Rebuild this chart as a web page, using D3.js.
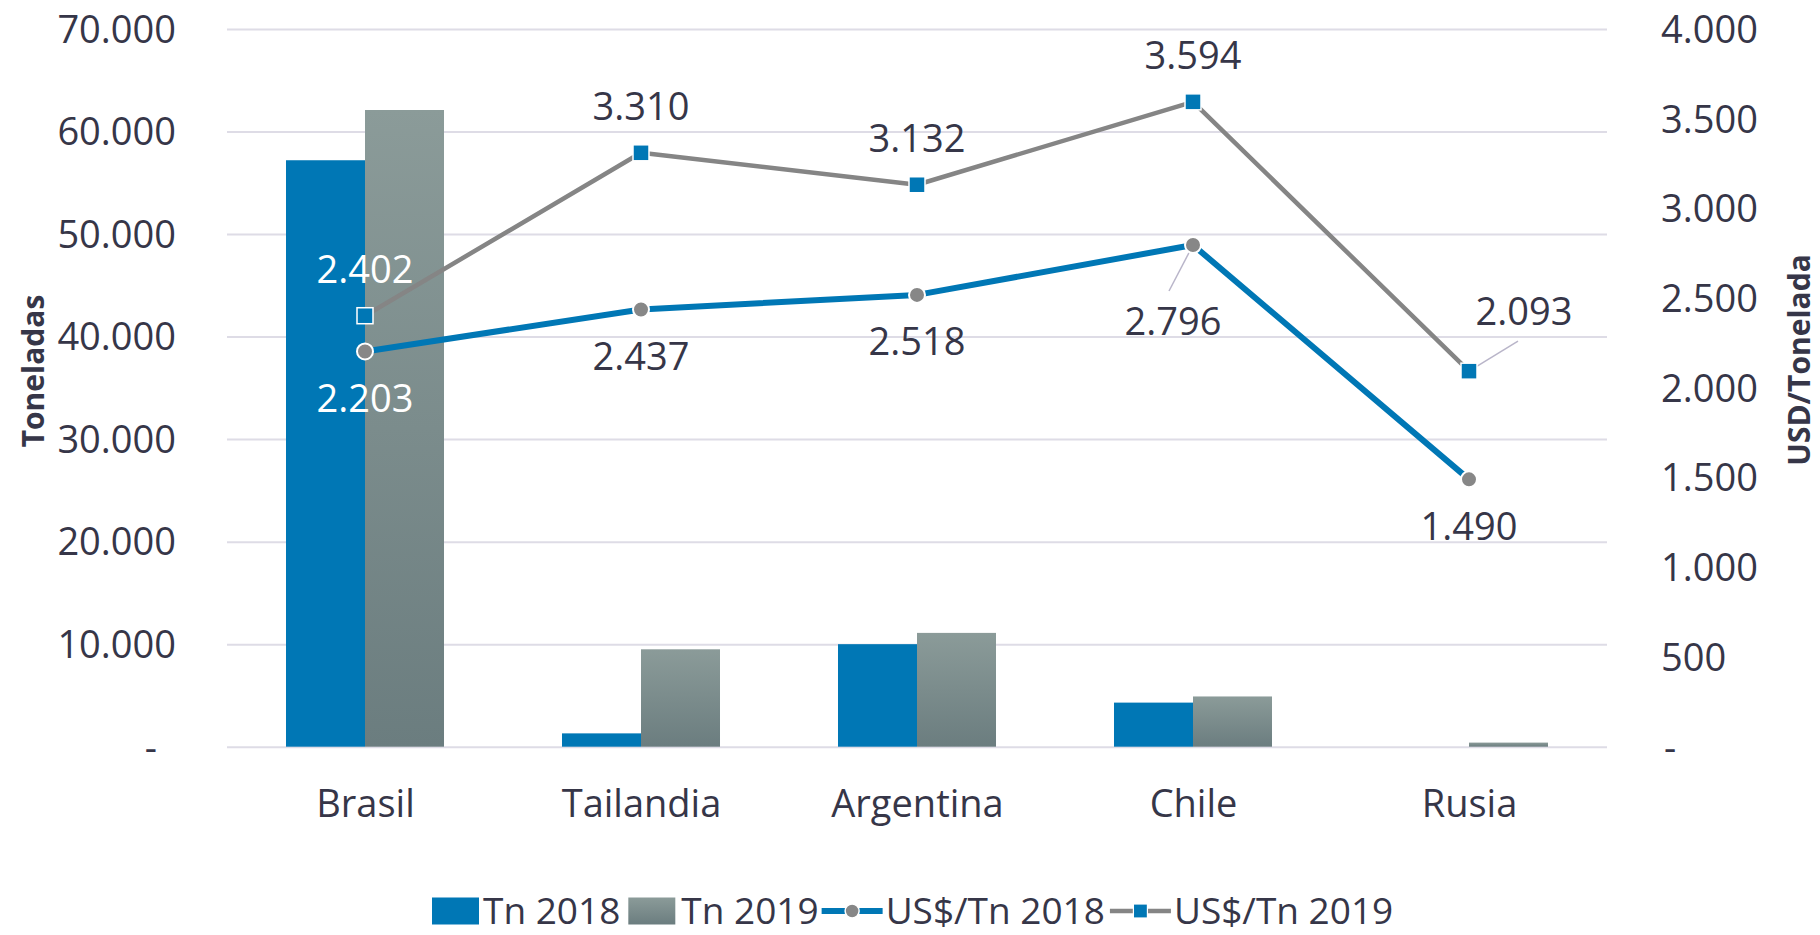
<!DOCTYPE html>
<html>
<head>
<meta charset="utf-8">
<script src="https://cdn.jsdelivr.net/npm/d3@7"></script>
<style>
  html, body { margin: 0; padding: 0; background: #ffffff; }
  svg { display: block; font-family: "Open Sans", sans-serif; }
</style>
</head>
<body>
<svg id="chart" width="1820" height="935"></svg>
<script>
// ---------- DATA ----------
const categories = ["Brasil", "Tailandia", "Argentina", "Chile", "Rusia"];
const tn2018 = [57200, 1300, 10000, 4300, 0];
const tn2019 = [62100, 9500, 11100, 4900, 400];
const usd2018 = [2203, 2437, 2518, 2796, 1490];
const usd2019 = [2402, 3310, 3132, 3594, 2093];
const leftTicks = [0, 10000, 20000, 30000, 40000, 50000, 60000, 70000];
const rightTicks = [0, 500, 1000, 1500, 2000, 2500, 3000, 3500, 4000];
const seriesNames = ["Tn 2018", "Tn 2019", "US$/Tn 2018", "US$/Tn 2019"];
const leftTitle = "Toneladas";
const rightTitle = "USD/Tonelada";
// label placement (style, not data)
const labelPos2018 = ["below", "below", "below", "leader", "below"];
const labelPos2019 = ["above", "above", "above", "above", "leader"];
const labelWhite2018 = [true, false, false, false, false];
const labelWhite2019 = [true, false, false, false, false];

// ---------- SETUP ----------
const svg = d3.select("#chart");
const plot = { left: 227, right: 1607, top: 29, bottom: 746.7 };

const esLocale = d3.formatLocale({ decimal: ",", thousands: ".", grouping: [3], currency: ["$", ""] });
const fmt = esLocale.format(",.0f");
const tickFmt = v => v === 0 ? "-" : fmt(v);

const textColor = "#363648";
const blue = "#0077b5";
const lineGray = "#858585";
const gridColor = "#dedce6";
const FS = 38;

const x0 = d3.scaleBand().domain(categories).range([plot.left, plot.right])
  .paddingInner(0.4275).paddingOuter(0.21375);
const x1 = d3.scaleBand().domain(["Tn 2018", "Tn 2019"]).range([0, x0.bandwidth()]);
const cx = c => x0(c) + x0.bandwidth() / 2;

const yL = d3.scaleLinear().domain([0, 70000]).range([plot.bottom, plot.top]);
const yR = d3.scaleLinear().domain([0, 4000]).range([plot.bottom, plot.top]);

// gradient
const defs = svg.append("defs");
const grad = defs.append("linearGradient").attr("id", "grayGrad")
  .attr("x1", 0).attr("y1", 0).attr("x2", 0).attr("y2", 1);
grad.append("stop").attr("offset", "0%").attr("stop-color", "#8b9b99");
grad.append("stop").attr("offset", "100%").attr("stop-color", "#6b7d7f");

// ---------- GRID + LEFT AXIS ----------
const gL = svg.append("g").attr("transform", `translate(${plot.left},0)`)
  .call(d3.axisLeft(yL).tickValues(leftTicks).tickSize(-(plot.right - plot.left))
    .tickPadding(51).tickFormat(tickFmt));
gL.select(".domain").remove();
gL.selectAll(".tick line").attr("stroke", gridColor).attr("stroke-width", 2);
gL.selectAll(".tick text").attr("fill", textColor).style("font-size", FS + "px")
  .attr("font-family", "Open Sans")
  .attr("dy", "0.35em")
  .attr("dx", d => d === 0 ? -19 : 0);

// ---------- RIGHT AXIS ----------
const gR = svg.append("g").attr("transform", `translate(${plot.right},0)`)
  .call(d3.axisRight(yR).tickValues(rightTicks).tickSize(0).tickPadding(54).tickFormat(tickFmt));
gR.select(".domain").remove();
gR.selectAll(".tick text").attr("fill", textColor).style("font-size", FS + "px")
  .attr("font-family", "Open Sans")
  .attr("dy", "0.35em")
  .attr("dx", d => d === 0 ? 3 : 0);

// ---------- BARS ----------
const barData = [];
categories.forEach((c, i) => {
  barData.push({ c, s: "Tn 2018", v: tn2018[i] });
  barData.push({ c, s: "Tn 2019", v: tn2019[i] });
});
svg.append("g").selectAll("rect").data(barData).join("rect")
  .attr("x", d => x0(d.c) + x1(d.s))
  .attr("y", d => yL(d.v))
  .attr("width", x1.bandwidth())
  .attr("height", d => yL(0) - yL(d.v))
  .attr("fill", d => d.s === "Tn 2018" ? blue : "url(#grayGrad)");

// ---------- X AXIS LABELS ----------
const gX = svg.append("g").attr("transform", `translate(0,${plot.bottom})`)
  .call(d3.axisBottom(d3.scalePoint().domain(categories)
    .range([cx(categories[0]), cx(categories[categories.length - 1])]))
    .tickSize(0).tickPadding(0));
gX.select(".domain").remove();
gX.selectAll(".tick text").attr("fill", textColor).style("font-size", FS + "px")
  .attr("font-family", "Open Sans").attr("y", 70).attr("dy", 0);

// ---------- LINES ----------
const line18 = categories.map((c, i) => ({ c, v: usd2018[i] }));
const line19 = categories.map((c, i) => ({ c, v: usd2019[i] }));
const lineGen = d3.line().x(d => cx(d.c)).y(d => yR(d.v));

svg.append("path").datum(line19).attr("d", lineGen)
  .attr("fill", "none").attr("stroke", lineGray).attr("stroke-width", 4.5).attr("stroke-linejoin", "round");
svg.append("path").datum(line18).attr("d", lineGen)
  .attr("fill", "none").attr("stroke", blue).attr("stroke-width", 6).attr("stroke-linejoin", "round");

// leader lines
function leader(d, dx2, dy2) {
  svg.append("line")
    .attr("x1", cx(d.c)).attr("y1", yR(d.v))
    .attr("x2", cx(d.c) + dx2).attr("y2", yR(d.v) + dy2)
    .attr("stroke", "#b9b5c9").attr("stroke-width", 1.5);
}
line18.forEach((d, i) => { if (labelPos2018[i] === "leader") leader(d, -24, 46); });
line19.forEach((d, i) => { if (labelPos2019[i] === "leader") leader(d, 49, -30); });

// markers
const sq = 16;
svg.append("g").selectAll("rect").data(line19).join("rect")
  .attr("x", d => cx(d.c) - sq / 2).attr("y", d => yR(d.v) - sq / 2)
  .attr("width", sq).attr("height", sq)
  .attr("fill", blue).attr("stroke", "#ffffff").attr("stroke-width", 1.5);
svg.append("g").selectAll("circle").data(line18).join("circle")
  .attr("cx", d => cx(d.c)).attr("cy", d => yR(d.v)).attr("r", 8)
  .attr("fill", "#878787").attr("stroke", "#ffffff").attr("stroke-width", 2);

// data labels
function labelOffset(pos, isSeries18) {
  if (pos === "above") return [0, -46];
  if (pos === "below") return [0, 47];
  return isSeries18 ? [-20, 77] : [55, -59];
}
function drawLabels(data, posArr, whiteArr, is18) {
  svg.append("g").selectAll("text").data(data).join("text")
    .attr("x", (d, i) => cx(d.c) + labelOffset(posArr[i], is18)[0])
    .attr("y", (d, i) => yR(d.v) + labelOffset(posArr[i], is18)[1])
    .attr("dy", "0.35em")
    .attr("text-anchor", "middle")
    .style("font-size", FS + "px")
    .attr("fill", (d, i) => whiteArr[i] ? "#ffffff" : textColor)
    .text(d => fmt(d.v));
}
drawLabels(line18, labelPos2018, labelWhite2018, true);
drawLabels(line19, labelPos2019, labelWhite2019, false);

// ---------- AXIS TITLES ----------
svg.append("text").attr("transform", `translate(33,371) rotate(-90)`)
  .attr("text-anchor", "middle").attr("dy", "0.35em")
  .style("font-size", "30px").style("font-weight", "bold").attr("fill", textColor)
  .text(leftTitle);
svg.append("text").attr("transform", `translate(1799,360) rotate(-90)`)
  .attr("text-anchor", "middle").attr("dy", "0.35em")
  .style("font-size", "30px").style("font-weight", "bold").attr("fill", textColor)
  .text(rightTitle);

// ---------- LEGEND ----------
const leg = svg.append("g");
const LFS = 37;
const ly = 911;
let lx = 432;
function legText(t, gapAfter) {
  const tx = leg.append("text").attr("x", lx).attr("y", ly).attr("dy", "0.35em")
    .style("font-size", LFS + "px").attr("fill", textColor).text(t);
  lx += tx.node().getComputedTextLength() + gapAfter;
}
// Tn 2018
leg.append("rect").attr("x", lx).attr("y", ly - 13.5).attr("width", 47).attr("height", 27).attr("fill", blue);
lx += 47 + 4;
legText(seriesNames[0], 8);
// Tn 2019
leg.append("rect").attr("x", lx).attr("y", ly - 13.5).attr("width", 47).attr("height", 27).attr("fill", "url(#grayGrad)");
lx += 47 + 6;
legText(seriesNames[1], 3);
// US$/Tn 2018
leg.append("line").attr("x1", lx).attr("x2", lx + 61).attr("y1", ly).attr("y2", ly)
  .attr("stroke", blue).attr("stroke-width", 6);
leg.append("circle").attr("cx", lx + 30.5).attr("cy", ly).attr("r", 7)
  .attr("fill", "#878787").attr("stroke", "#ffffff").attr("stroke-width", 1.5);
lx += 61 + 3;
legText(seriesNames[2], 5);
// US$/Tn 2019
leg.append("line").attr("x1", lx).attr("x2", lx + 61).attr("y1", ly).attr("y2", ly)
  .attr("stroke", lineGray).attr("stroke-width", 4.5);
leg.append("rect").attr("x", lx + 30.5 - 7).attr("y", ly - 7).attr("width", 14).attr("height", 14)
  .attr("fill", blue).attr("stroke", "#ffffff").attr("stroke-width", 1.2);
lx += 61 + 3;
legText(seriesNames[3], 0);
</script>
</body>
</html>
